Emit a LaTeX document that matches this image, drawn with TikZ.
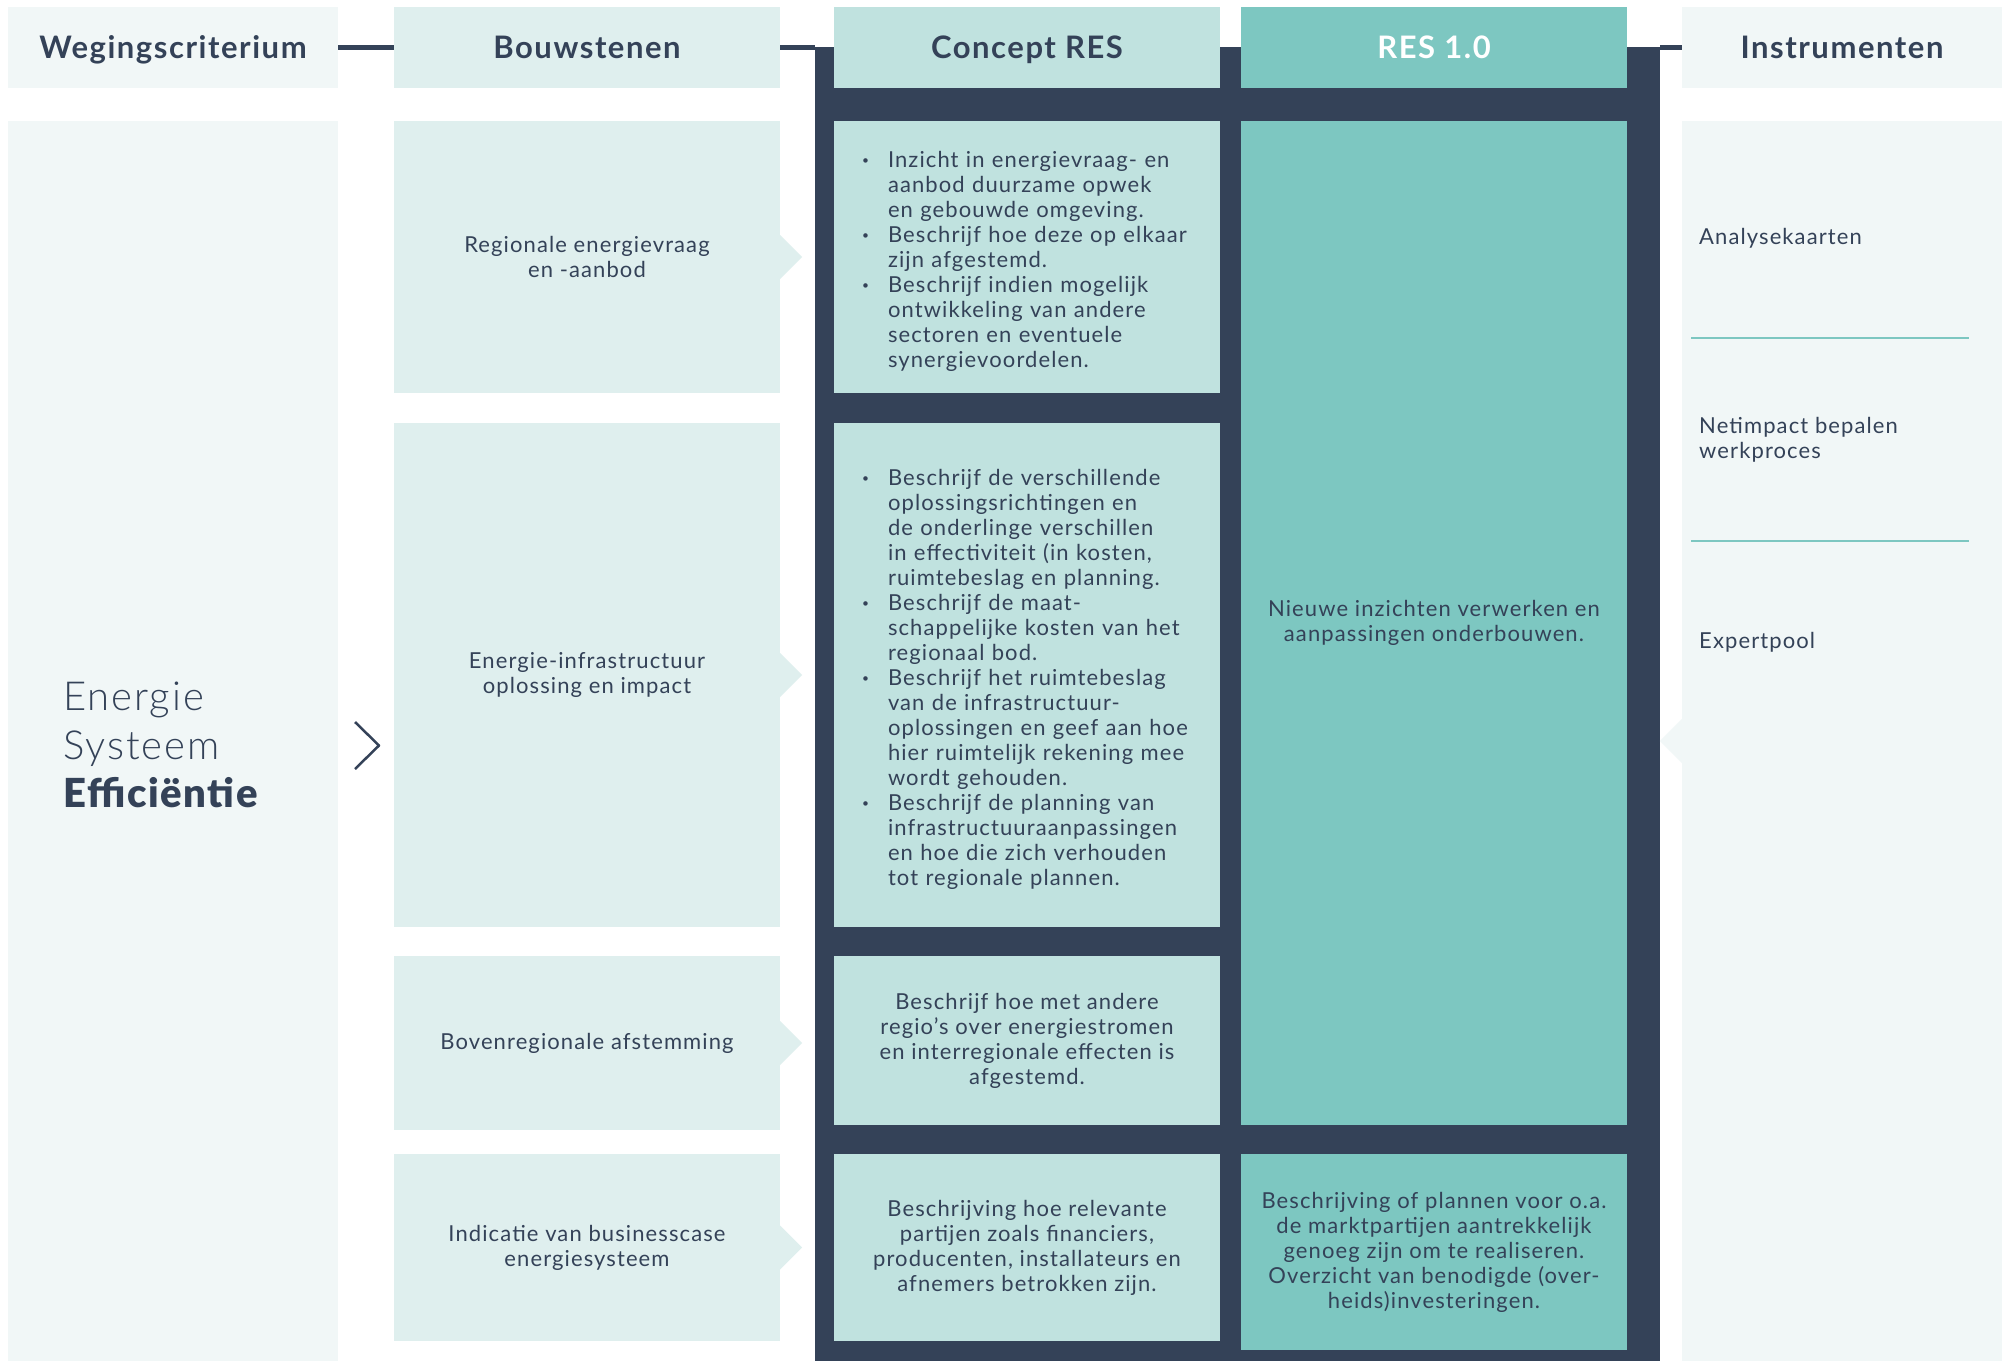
\documentclass[tikz,border=0pt]{standalone}
\usepackage{fontspec}
\setmainfont{Lato}[LetterSpace=5]
\newfontfamily\lichtfont{Lato Light}[LetterSpace=5]
\newfontfamily\zwaarfont{Lato Black}[LetterSpace=4]
\usetikzlibrary{positioning}
\definecolor{donker}{HTML}{344258}
\definecolor{licht}{HTML}{F1F7F7}
\definecolor{bouw}{HTML}{DFEFEE}
\definecolor{concept}{HTML}{C0E2DF}
\definecolor{resgroen}{HTML}{7DC7C1}
\newcommand{\kopfont}{\fontsize{31}{36}\selectfont\bfseries}
\newcommand{\tekstfont}{\fontsize{22}{25}\selectfont}
\newcommand{\bitem}[1]{\par\hangindent=26pt\hangafter=1\noindent\makebox[26pt][l]{\raisebox{3pt}{\fontsize{12}{12}\selectfont\textbullet}}{\let\\\newline#1}\par}
\tikzset{
  kop/.style={minimum height=81, inner sep=0pt, text height=22, text depth=0, text=donker, font=\kopfont},
  vak/.style={minimum width=386, inner sep=0pt, align=center, text=donker, font=\tekstfont},
  lijstvak/.style={vak, text width=330, inner xsep=28, align=left},
  lijn/.style={donker, line width=5},
  scheiding/.style={resgroen, line width=2.5}
}
\begin{document}
\begin{tikzpicture}[x=1pt, y=-1pt, line join=round]
\useasboundingbox[fill=white] (0,0) rectangle (2002,1361);
% kader achter concept en RES
\node[fill=donker, minimum width=845, minimum height=1314, inner sep=0pt] (kader) at (1237.5,704) {};
% kopregel
\node[kop, fill=licht, minimum width=330] (wc) at (173,47.5) {Wegingscriterium};
\node[kop, fill=bouw, minimum width=386] (bs) at (587,47.5) {Bouwstenen};
\node[kop, fill=concept, minimum width=386] (cr) at (1027,47.5) {Concept RES};
\node[kop, fill=resgroen, minimum width=386, text=white] (res) at (1434,47.5) {RES 1.0};
\node[kop, fill=licht, minimum width=320] (ins) at (1842,47.5) {Instrumenten};
\draw[lijn] (wc) -- (bs);
\draw[lijn] (bs.east) -- (bs.east -| kader.west);
\draw[lijn] (kader.east |- ins.west) -- (ins.west);
% linker kolom
\node[fill=licht, minimum width=330, minimum height=1240, inner sep=0pt] (wcvak) at (173,741) {};
\node[anchor=west, align=left, inner sep=0pt, text=donker, font=\fontsize{40}{48.5}\selectfont] (crit) at (63,745)
  {{\lichtfont Energie}\\{\lichtfont Systeem}\\{\zwaarfont Efficiëntie}};
\draw[donker, line width=2.5] (355,722) -- (379,745.5) -- (355,769);
% bouwstenen
\node[vak, fill=bouw, minimum height=272] (b1) at (587,257) {Regionale energievraag\\en -aanbod};
\node[vak, fill=bouw, minimum height=504] (b2) at (587,675) {Energie-infrastructuur\\oplossing en impact};
\node[vak, fill=bouw, minimum height=174] (b3) at (587,1043) {Bovenregionale afstemming};
\node[vak, fill=bouw, minimum height=187] (b4) at (587,1247.5) {Indicatie van businesscase\\energiesysteem};
\foreach \b in {b1,b2,b3,b4}
  \fill[bouw] (\b.east) ++(0,-22) -- ++(22,22) -- ++(-22,22) -- cycle;
% concept RES
\node[lijstvak, fill=concept, minimum height=272] (c1) at (1027,257) {%
  \bitem{Inzicht in energievraag- en\\aanbod duurzame opwek\\en gebouwde omgeving.}
  \bitem{Beschrijf hoe deze op elkaar\\zijn afgestemd.}
  \bitem{Beschrijf indien mogelijk\\ontwikkeling van andere\\sectoren en eventuele\\synergievoordelen.}};
\node[lijstvak, fill=concept, minimum height=504] (c2) at (1027,675) {%
  \bitem{Beschrijf de verschillende\\oplossingsrichtingen en\\de onderlinge verschillen\\in effectiviteit (in kosten,\\ruimtebeslag en planning.}
  \bitem{Beschrijf de maat-\\schappelijke kosten van het\\regionaal bod.}
  \bitem{Beschrijf het ruimtebeslag\\van de infrastructuur-\\oplossingen en geef aan hoe\\hier ruimtelijk rekening mee\\wordt gehouden.}
  \bitem{Beschrijf de planning van\\infrastructuuraanpassingen\\en hoe die zich verhouden\\tot regionale plannen.}};
\node[vak, fill=concept, minimum height=169] (c3) at (1027,1040.5)
  {Beschrijf hoe met andere\\regio’s over energiestromen\\en interregionale effecten is\\afgestemd.};
\node[vak, fill=concept, minimum height=187] (c4) at (1027,1247.5)
  {Beschrijving hoe relevante\\partijen zoals financiers,\\producenten, installateurs en\\afnemers betrokken zijn.};
% RES 1.0
\node[vak, fill=resgroen, minimum height=1004] (r1) at (1434,623)
  {Nieuwe inzichten verwerken en\\aanpassingen onderbouwen.};
\node[vak, fill=resgroen, minimum height=196] (r2) at (1434,1252)
  {Beschrijving of plannen voor o.a.\\de marktpartijen aantrekkelijk\\genoeg zijn om te realiseren.\\Overzicht van benodigde (over-\\heids)investeringen.};
% instrumenten
\node[fill=licht, minimum width=320, minimum height=1240, inner sep=0pt] (insvak) at (1842,741) {};
\fill[licht] (insvak.west) ++(0,-22) -- ++(-22,22) -- ++(22,22) -- cycle;
\draw[scheiding] (1691,338) -- (1969,338);
\draw[scheiding] (1691,541) -- (1969,541);
\node[anchor=west, align=left, inner sep=0pt, text=donker, font=\tekstfont] (ana) at (1699,238) {Analysekaarten};
\node[anchor=west, align=left, inner sep=0pt, text=donker, font=\tekstfont] (net) at (1699,440) {Netimpact bepalen\\werkproces};
\node[anchor=west, align=left, inner sep=0pt, text=donker, font=\tekstfont] (exp) at (1699,642) {Expertpool};
\end{tikzpicture}
\end{document}
